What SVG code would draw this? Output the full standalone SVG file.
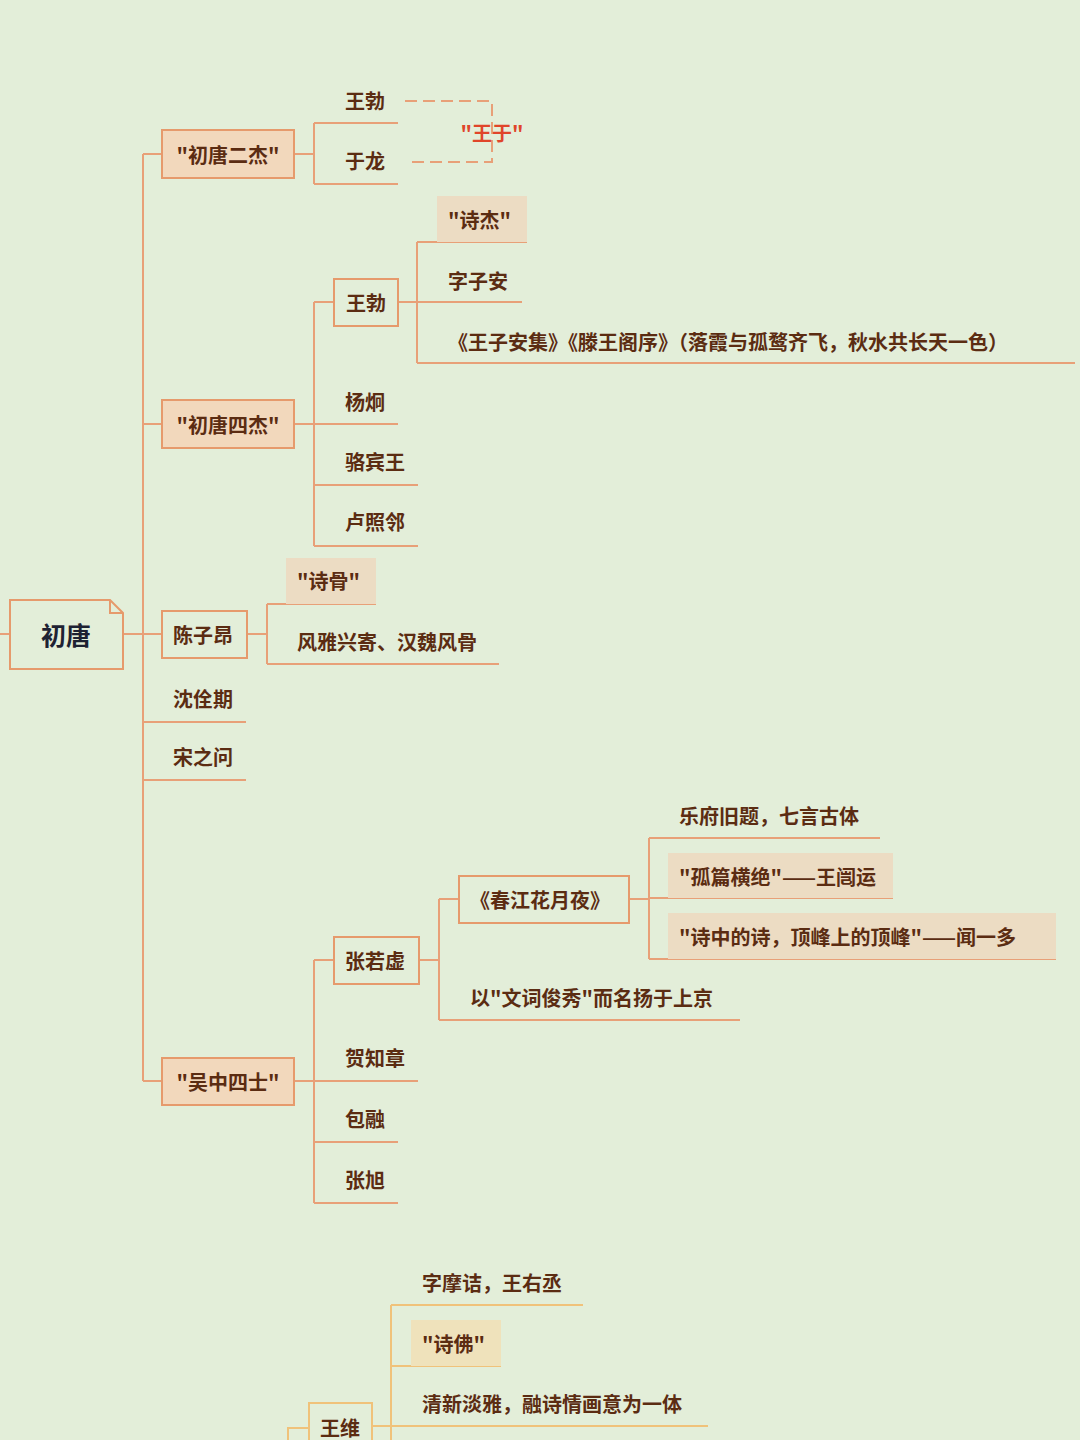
<svg xmlns="http://www.w3.org/2000/svg" width="1080" height="1440" viewBox="0 0 1080 1440">
<style>
text{font-family:"Noto Sans CJK SC","Noto Sans",sans-serif;font-size:20px;font-weight:bold;fill:#5b2c12;dominant-baseline:central}
.c line,.c path{stroke:#e8a078;stroke-width:2;fill:none}
.y line,.y path{stroke:#f0c27a;stroke-width:2;fill:none}
.box{fill:#f2d8bc;stroke:#e69a6c;stroke-width:2}
.wbox{fill:none;stroke:#e69a6c;stroke-width:2}
.tag{fill:#ecdcc3}
.ytag{fill:#efe2bb}
</style>
<rect width="1080" height="1440" fill="#e3eed9"/>
<g class="c" id="connectors">
<line x1="0" y1="634" x2="10" y2="634"/><line x1="123" y1="634" x2="143" y2="634"/>
<line x1="143" y1="154" x2="143" y2="1081"/>
<line x1="143" y1="154" x2="162" y2="154"/><line x1="143" y1="424" x2="162" y2="424"/><line x1="143" y1="634" x2="162" y2="634"/><line x1="143" y1="1081" x2="162" y2="1081"/>
<line x1="294" y1="154" x2="314" y2="154"/><line x1="314" y1="123" x2="314" y2="184"/>
<line x1="314" y1="123" x2="398" y2="123"/><line x1="314" y1="184" x2="398" y2="184"/>
<line x1="294" y1="424" x2="314" y2="424"/><line x1="314" y1="302" x2="314" y2="546"/>
<line x1="314" y1="302" x2="334" y2="302"/><line x1="398" y1="302" x2="417" y2="302"/>
<line x1="417" y1="242" x2="417" y2="363"/>
<line x1="417" y1="242" x2="527" y2="242"/><line x1="417" y1="302" x2="522" y2="302"/><line x1="417" y1="363" x2="1075" y2="363"/>
<line x1="314" y1="424" x2="398" y2="424"/><line x1="314" y1="485" x2="418" y2="485"/><line x1="314" y1="546" x2="418" y2="546"/>
<line x1="247" y1="634" x2="267" y2="634"/><line x1="267" y1="604" x2="267" y2="664"/>
<line x1="267" y1="604" x2="376" y2="604"/><line x1="267" y1="664" x2="499" y2="664"/>
<line x1="143" y1="722" x2="246" y2="722"/><line x1="143" y1="780" x2="246" y2="780"/>
<line x1="294" y1="1081" x2="314" y2="1081"/><line x1="314" y1="960" x2="314" y2="1203"/>
<line x1="314" y1="960" x2="334" y2="960"/><line x1="419" y1="960" x2="439" y2="960"/>
<line x1="439" y1="899" x2="439" y2="1020"/><line x1="439" y1="899" x2="459" y2="899"/>
<line x1="629" y1="899" x2="649" y2="899"/><line x1="649" y1="838" x2="649" y2="959"/>
<line x1="649" y1="838" x2="880" y2="838"/><line x1="649" y1="898" x2="893" y2="898"/><line x1="649" y1="959" x2="1056" y2="959"/>
<line x1="439" y1="1020" x2="740" y2="1020"/>
<line x1="314" y1="1081" x2="418" y2="1081"/><line x1="314" y1="1142" x2="398" y2="1142"/><line x1="314" y1="1203" x2="398" y2="1203"/>
<path d="M405 101H492V162H408" stroke="#4fb3e0" stroke-dasharray="12 6"/>
</g>
<g class="y" id="connectors2">
<path d="M288 1440V1428H309"/>
<line x1="372" y1="1426" x2="391" y2="1426"/>
<line x1="391" y1="1305" x2="391" y2="1440"/>
<line x1="391" y1="1305" x2="583" y2="1305"/><line x1="391" y1="1366" x2="501" y2="1366"/><line x1="391" y1="1426" x2="708" y2="1426"/>
</g>
<g id="root"><path d="M10 600H110L123 613V669H10Z" fill="none" stroke="#e69a6c" stroke-width="2"/><path d="M110 600V613H123" fill="none" stroke="#e69a6c" stroke-width="2"/><text x="66" y="634" text-anchor="middle" font-size="25" style="fill:#1e2233;font-size:25px">初唐</text></g>
<g id="n1"><rect class="box" x="162" y="130" width="132" height="48"/><text x="228" y="154" text-anchor="middle">"初唐二杰"</text></g>
<g id="n1a"><text x="345" y="100">王勃</text></g>
<g id="n1b"><text x="345" y="160">于龙</text></g>
<g id="wy"><text x="492" y="132" text-anchor="middle" style="fill:#e0452a">"王于"</text></g>
<g id="n2"><rect class="box" x="162" y="400" width="132" height="48"/><text x="228" y="424" text-anchor="middle">"初唐四杰"</text></g>
<g id="n2a"><rect class="wbox" x="334" y="279" width="64" height="47"/><text x="366" y="302" text-anchor="middle">王勃</text></g>
<g id="n2a1"><rect class="tag" x="437" y="196" width="90" height="46"/><text x="448" y="219">"诗杰"</text></g>
<g id="n2a2"><text x="448" y="280">字子安</text></g>
<g id="n2a3"><text x="448" y="341">《王子安集》《滕王阁序》（落霞与孤鹜齐飞，秋水共长天一色）</text></g>
<g id="n2b"><text x="345" y="401">杨炯</text></g>
<g id="n2c"><text x="345" y="461">骆宾王</text></g>
<g id="n2d"><text x="345" y="521">卢照邻</text></g>
<g id="n3"><rect class="wbox" x="162" y="611" width="85" height="47"/><text x="173" y="634">陈子昂</text></g>
<g id="n3a"><rect class="tag" x="286" y="558" width="90" height="46"/><text x="297" y="580">"诗骨"</text></g>
<g id="n3b"><text x="297" y="641">风雅兴寄、汉魏风骨</text></g>
<g id="n4"><text x="173" y="698">沈佺期</text></g>
<g id="n5"><text x="173" y="756">宋之问</text></g>
<g id="n6"><rect class="box" x="162" y="1058" width="132" height="47"/><text x="228" y="1081" text-anchor="middle">"吴中四士"</text></g>
<g id="n6a"><rect class="wbox" x="334" y="937" width="85" height="47"/><text x="345" y="960">张若虚</text></g>
<g id="n6a1"><rect class="wbox" x="459" y="876" width="170" height="47"/><text x="470" y="899">《春江花月夜》</text></g>
<g id="n6a1a"><text x="679" y="815">乐府旧题，七言古体</text></g>
<g id="n6a1b"><rect class="tag" x="668" y="853" width="225" height="45"/><text x="679" y="876">"孤篇横绝"——王闿运</text></g>
<g id="n6a1c"><rect class="tag" x="668" y="913" width="388" height="46"/><text x="679" y="936">"诗中的诗，顶峰上的顶峰"——闻一多</text></g>
<g id="n6a2"><text x="470" y="997">以"文词俊秀"而名扬于上京</text></g>
<g id="n6b"><text x="345" y="1057">贺知章</text></g>
<g id="n6c"><text x="345" y="1118">包融</text></g>
<g id="n6d"><text x="345" y="1179">张旭</text></g>
<g id="w"><rect x="309" y="1403" width="63" height="50" fill="none" stroke="#f0c27a" stroke-width="2"/><text x="340" y="1427" text-anchor="middle">王维</text></g>
<g id="wa"><text x="422" y="1282">字摩诘，王右丞</text></g>
<g id="wb"><rect class="ytag" x="411" y="1320" width="90" height="46"/><text x="422" y="1343">"诗佛"</text></g>
<g id="wc"><text x="422" y="1403">清新淡雅，融诗情画意为一体</text></g>
</svg>
